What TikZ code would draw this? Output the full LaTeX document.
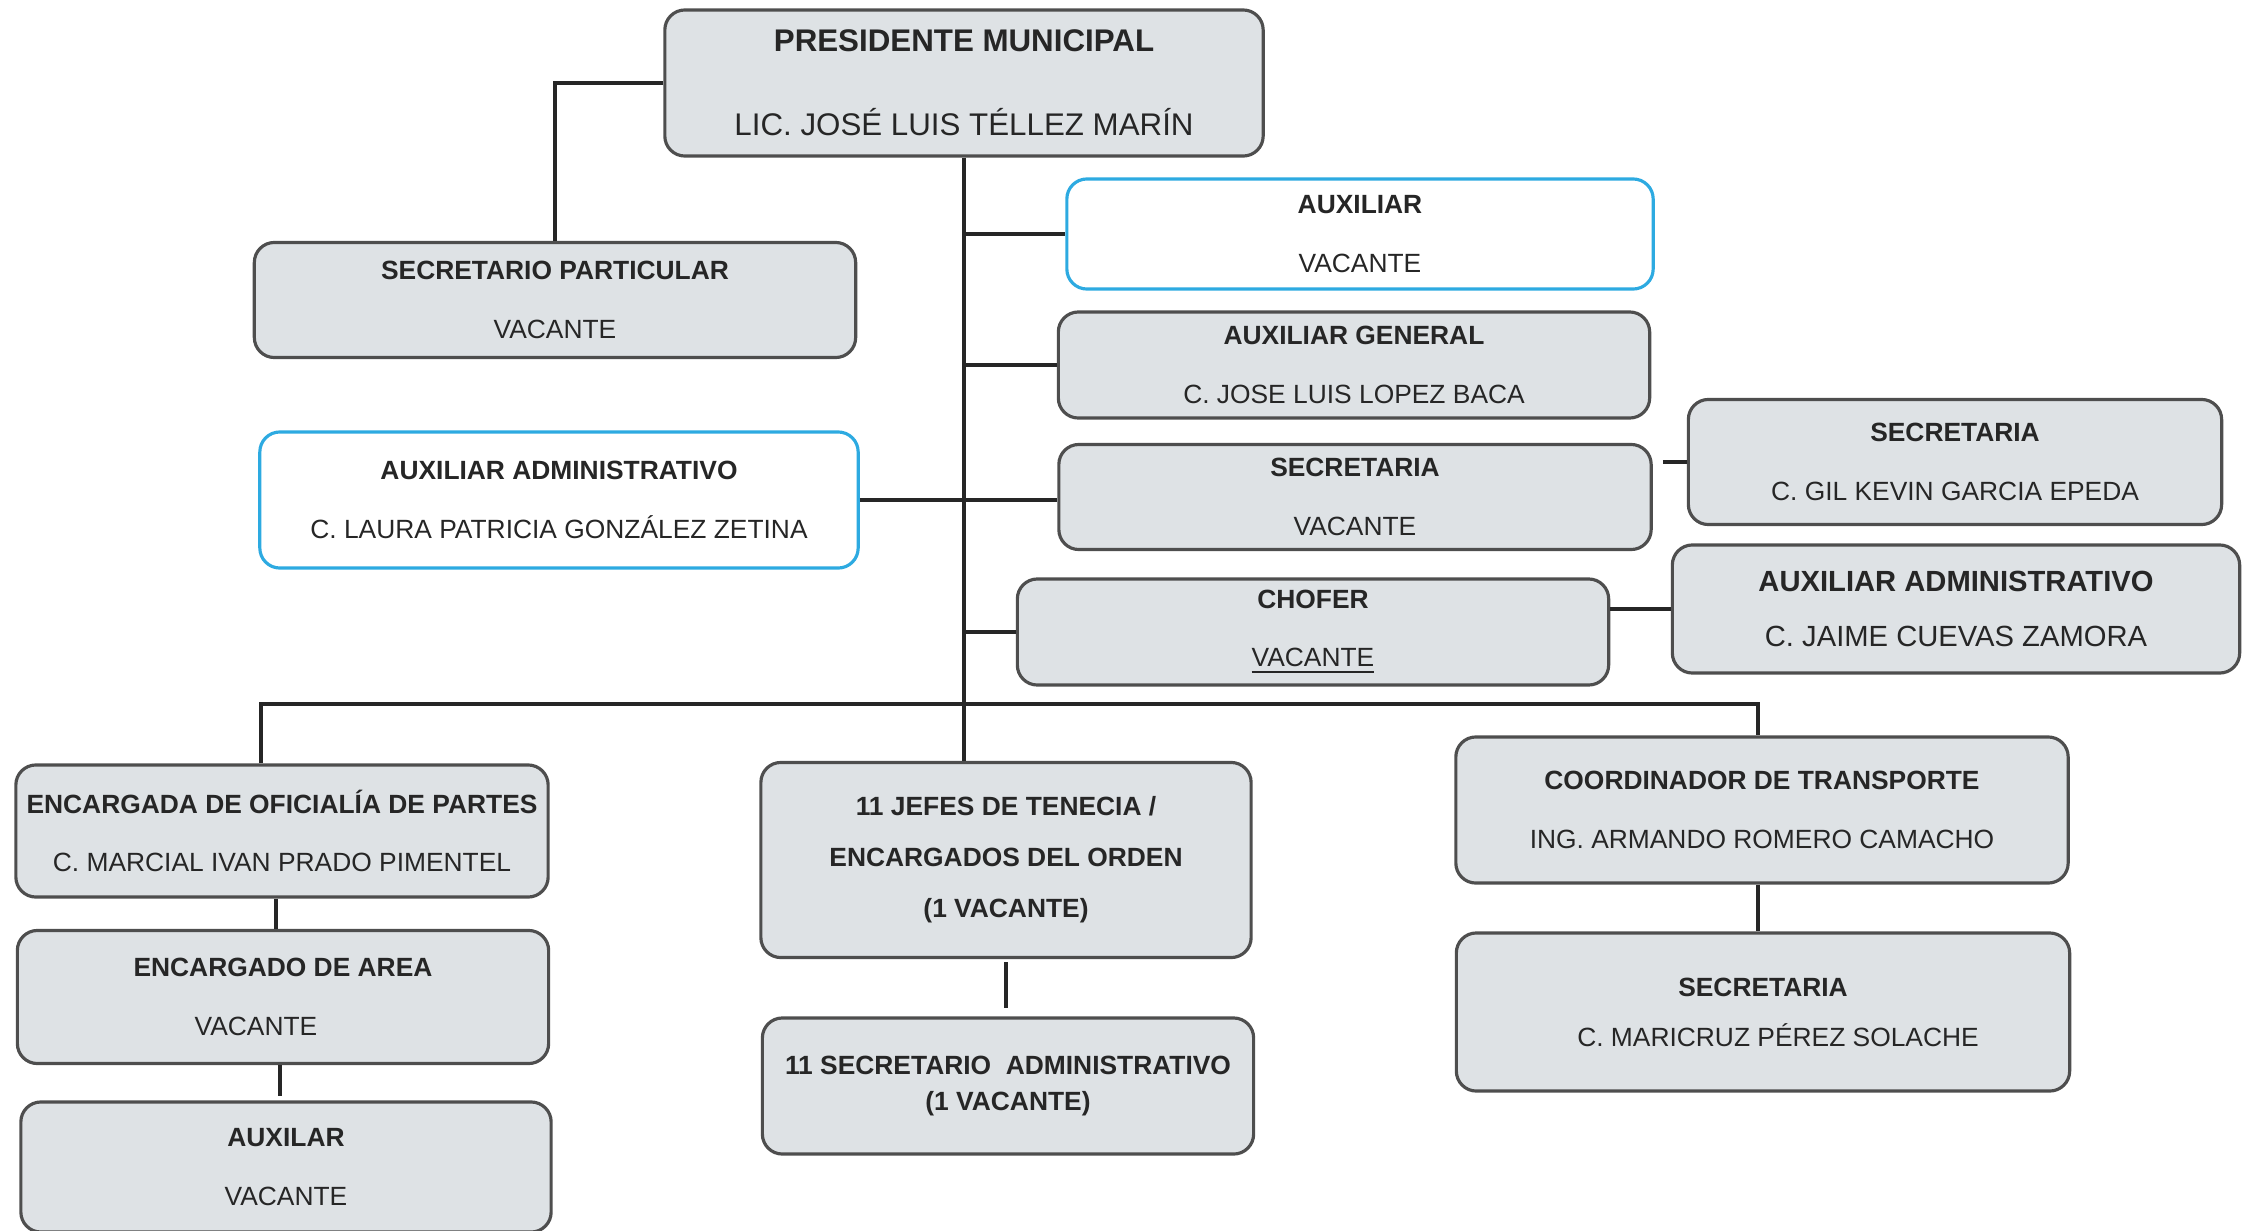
\documentclass[tikz,border=0pt]{standalone}
\usepackage{fontspec}
\setmainfont{Liberation Sans}
\usepackage{tikz}

\definecolor{relleno}{RGB}{222,226,229}
\definecolor{borde}{RGB}{78,78,78}
\definecolor{azul}{RGB}{45,170,225}
\definecolor{texto}{RGB}{38,38,38}

\tikzset{
  puesto/.style={draw=borde, line width=0.9pt, fill=relleno, rounded corners=0.2cm, align=center, text=texto, inner sep=0pt, font=\fontsize{7.5}{9}\selectfont},
  puestoazul/.style={puesto, draw=azul, fill=white},
  linea/.style={draw=black!85, line width=1pt}
}

\begin{document}
\begin{tikzpicture}[x=0.01cm, y=-0.01cm]
% \draw[help lines] (0,0) grid (2242,1230);
\useasboundingbox (0,0) rectangle (2242,1230);
\coordinate (busizq) at (261,704);
\coordinate (busder) at (1758,704);
\coordinate (bajadaizq) at (276,0);
\coordinate (bajadaizq2) at (280,0);

\node[puesto, minimum width=5.98cm, minimum height=1.46cm, font=\fontsize{8.9}{10.7}\selectfont] (pres) at (964,83) {\textbf{PRESIDENTE MUNICIPAL}\\[13.2pt]LIC. JOSÉ LUIS TÉLLEZ MARÍN};
\node[puesto, minimum width=6.01cm, minimum height=1.15cm] (secpart) at (555,300) {\textbf{SECRETARIO PARTICULAR}\\[7.6pt]VACANTE};
\node[puestoazul, minimum width=5.86cm, minimum height=1.10cm] (aux) at (1360,234) {\textbf{AUXILIAR}\\[7.6pt]VACANTE};
\node[puesto, minimum width=5.91cm, minimum height=1.06cm] (auxgen) at (1354,365) {\textbf{AUXILIAR GENERAL}\\[7.6pt]C. JOSE LUIS LOPEZ BACA};
\node[puestoazul, minimum width=5.98cm, minimum height=1.36cm] (auxadm) at (559,500) {\textbf{AUXILIAR ADMINISTRATIVO}\\[8pt]C. LAURA PATRICIA GONZÁLEZ ZETINA};
\node[puesto, minimum width=5.92cm, minimum height=1.05cm] (secre) at (1355,497) {\textbf{SECRETARIA}\\[7.6pt]VACANTE};
\node[puesto, minimum width=5.33cm, minimum height=1.25cm] (secre2) at (1955,462) {\textbf{SECRETARIA}\\[8pt]C. GIL KEVIN GARCIA EPEDA};
\node[puesto, minimum width=5.91cm, minimum height=1.06cm] (chofer) at (1313,632) {\textbf{CHOFER}\\[7.6pt]\underline{VACANTE}};
\node[puesto, minimum width=5.67cm, minimum height=1.28cm, font=\fontsize{8.3}{10}\selectfont] (auxadm2) at (1956,609) {\textbf{AUXILIAR ADMINISTRATIVO}\\[5.4pt]C. JAIME CUEVAS ZAMORA};
\node[puesto, minimum width=5.32cm, minimum height=1.32cm] (encof) at (282,831) {\textbf{ENCARGADA DE OFICIALÍA DE PARTES}\\[7.6pt]C. MARCIAL IVAN PRADO PIMENTEL};
\node[puesto, minimum width=5.31cm, minimum height=1.33cm] (encarea) at (283,997) {\textbf{ENCARGADO DE AREA}\\[7.6pt]VACANTE\hspace*{0.54cm}};
\node[puesto, minimum width=5.30cm, minimum height=1.30cm] (auxilar) at (286,1167) {\textbf{AUXILAR}\\[7.6pt]VACANTE};
\node[puesto, minimum width=4.90cm, minimum height=1.95cm, font=\fontsize{7.5}{9}\selectfont\bfseries] (jefes) at (1006,860) {11 JEFES DE TENECIA /\\[5.5pt]ENCARGADOS DEL ORDEN\\[5.5pt](1 VACANTE)};
\node[puesto, minimum width=4.91cm, minimum height=1.36cm, font=\fontsize{7.5}{9}\selectfont\bfseries] (secadm) at (1008,1086) {11 SECRETARIO\ \ ADMINISTRATIVO\\[1.2pt](1 VACANTE)};
\node[puesto, minimum width=6.12cm, minimum height=1.46cm] (coord) at (1762,810) {\textbf{COORDINADOR DE TRANSPORTE}\\[7.6pt]ING. ARMANDO ROMERO CAMACHO};
\node[puesto, minimum width=6.13cm, minimum height=1.58cm] (seccoord) at (1763,1012) {\textbf{SECRETARIA}\\[5.2pt]\hspace*{0.3cm}C. MARICRUZ PÉREZ SOLACHE};

\draw[linea] (pres.west) -| (secpart.north);
\draw[linea] (pres.south) -- (pres.south |- jefes.north);
\draw[linea] (pres.south |- aux.west) -- (aux.west);
\draw[linea] (pres.south |- auxgen.west) -- (auxgen.west);
\draw[linea] (auxadm.east) -- (auxadm.east -| secre.west);
\draw[linea] (pres.south |- chofer.west) -- (chofer.west);
\draw[linea, shorten <=0.1cm] (secre.east |- secre2.west) -- (secre2.west);
\draw[linea] (auxadm2.west -| chofer.east) -- (auxadm2.west);
\draw[linea] (busizq |- encof.north) -- (busizq) -- (busder) -- (busder |- coord.north);
\draw[linea] (bajadaizq |- encof.south) -- (bajadaizq |- encarea.north);
\draw[linea, shorten >=0.04cm] (bajadaizq2 |- encarea.south) -- (bajadaizq2 |- auxilar.north);
\draw[linea, shorten <=0.03cm, shorten >=0.08cm] (jefes.south) -- (jefes.south |- secadm.north);
\draw[linea] (busder |- coord.south) -- (busder |- seccoord.north);
\end{tikzpicture}
\end{document}
